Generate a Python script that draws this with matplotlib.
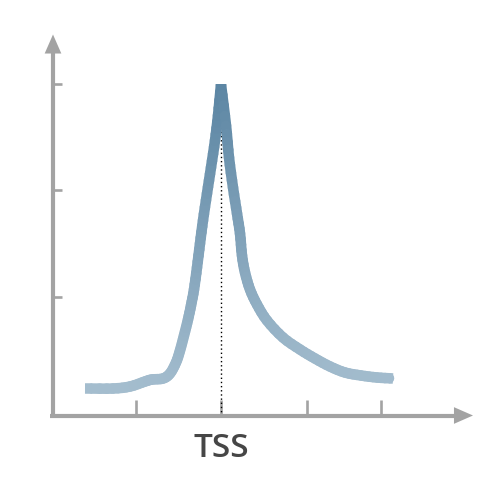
import numpy as np
import matplotlib
matplotlib.use("Agg")
import matplotlib.pyplot as plt
from matplotlib.path import Path
from matplotlib.patches import PathPatch
from matplotlib.colors import to_rgb

# signal profile around the TSS (arbitrary units, x = position relative to TSS)
pos = [-136, -108, -91, -76, -69, -58, -51, -45, -41, -37, -33, -30, -27, -24, -21, -18, -14, -10, -6, -3, 0,
       5, 8, 12, 16, 19, 21, 24, 29, 36, 46, 62, 79, 94, 109, 124, 140, 156, 172]
signal = [27, 27, 29, 34, 36, 37, 42, 53, 65, 80, 96, 110, 126, 148, 172, 195, 222, 248, 275, 300, 331,
          290, 258, 228, 202, 182, 160, 143, 126, 111, 95, 78, 66, 57, 49, 43, 40, 38, 37]

x_ticks = [-85, 0, 86, 160]
x_tick_labels = ["", "TSS", "", ""]
y_ticks = [119, 225, 331]

axis_grey = "#a3a3a3"
low_col = np.array(to_rgb("#a4bdce"))
high_col = np.array(to_rgb("#5b85a3"))
lw = 7.6


def colour_at(yv, ymin, ymax):
    t = (yv - ymin) / (ymax - ymin)
    return low_col + (high_col - low_col) * np.clip(t, 0, 1)


def split_bezier(p0, p1, p2, p3, n):
    # cut a cubic bezier into n pieces (de Casteljau)
    out = []
    rest = (p0, p1, p2, p3)
    for k in range(n, 0, -1):
        t = 1.0 / k
        a, b, c, d = rest
        ab, bc, cd = a + (b - a) * t, b + (c - b) * t, c + (d - c) * t
        abc, bcd = ab + (bc - ab) * t, bc + (cd - bc) * t
        m = abc + (bcd - abc) * t
        out.append((a, ab, abc, m))
        rest = (m, bcd, cd, d)
    return out


fig = plt.figure(figsize=(5, 5), dpi=100)
ax = fig.add_axes([0.106, 0.169, 0.84, 0.662])
ax.set_xlim(-168, 252)
ax.set_ylim(0, 331)

x = np.array(pos, dtype=float)
y = np.array(signal, dtype=float)
pts = np.column_stack([x, y])
peak_i = int(np.argmax(y))
n_pts = len(pts)

# smooth curve through the points: two pieces meeting at the sharp peak
pieces = []
for lo, hi in [(0, peak_i), (peak_i, n_pts - 1)]:
    piece = pts[lo:hi + 1]
    tang = np.zeros_like(piece)
    tang[1:-1] = (piece[2:] - piece[:-2]) / 2
    tang[0] = piece[1] - piece[0]
    tang[-1] = piece[-1] - piece[-2]
    for i in range(len(piece) - 1):
        p0, p3 = piece[i], piece[i + 1]
        p1, p2 = p0 + tang[i] / 3, p3 - tang[i + 1] / 3
        pieces.extend(split_bezier(p0, p1, p2, p3, 4))

for k, q in enumerate(pieces):
    path = Path(np.array(q), [Path.MOVETO, Path.CURVE4, Path.CURVE4, Path.CURVE4])
    col = colour_at((q[0][1] + q[3][1]) / 2, y.min(), y.max())
    cap = "butt" if k in (0, len(pieces) - 1) else "round"
    ax.add_patch(PathPatch(path, fc="none", ec=col, lw=lw, capstyle=cap, zorder=3))

# dotted TSS marker
ax.plot([x[peak_i], x[peak_i]], [0, y[peak_i]], color="black", lw=1.0,
        linestyle=(0, (1, 2)), zorder=2)

# axes with arrow heads
ax.plot([-171, 238], [0, 0], color=axis_grey, lw=3.0, clip_on=False, solid_capstyle="butt", zorder=4)
ax.plot([-168, -168], [-2, 366], color=axis_grey, lw=3.0, clip_on=False, solid_capstyle="butt", zorder=4)
head = dict(arrowstyle="-|>,head_length=1.37,head_width=0.6", mutation_scale=10,
            lw=0, fc=axis_grey, ec="none", shrinkA=0, shrinkB=0)
ax.annotate("", xy=(252, 0), xytext=(200, 0), arrowprops=head, annotation_clip=False)
ax.annotate("", xy=(-168, 381), xytext=(-168, 300), arrowprops=head, annotation_clip=False)

for s in ax.spines.values():
    s.set_visible(False)
ax.set_xticks(x_ticks)
ax.set_xticklabels([])
ax.set_yticks(y_ticks)
ax.set_yticklabels([])
ax.tick_params(axis="x", direction="in", length=11.5, width=1.9, color=axis_grey)
ax.tick_params(axis="y", direction="in", length=6.8, width=1.9, color=axis_grey)

for xt, lab in zip(x_ticks, x_tick_labels):
    if lab:
        ax.annotate(lab, xy=(xt, 0), xycoords=("data", "axes fraction"), xytext=(0, -30),
                    textcoords="offset points", ha="center", va="baseline",
                    fontsize=24, fontweight="semibold", color="#464646",
                    family=["Open Sans", "DejaVu Sans"])

fig.savefig("out.png", dpi=100, facecolor="white")
